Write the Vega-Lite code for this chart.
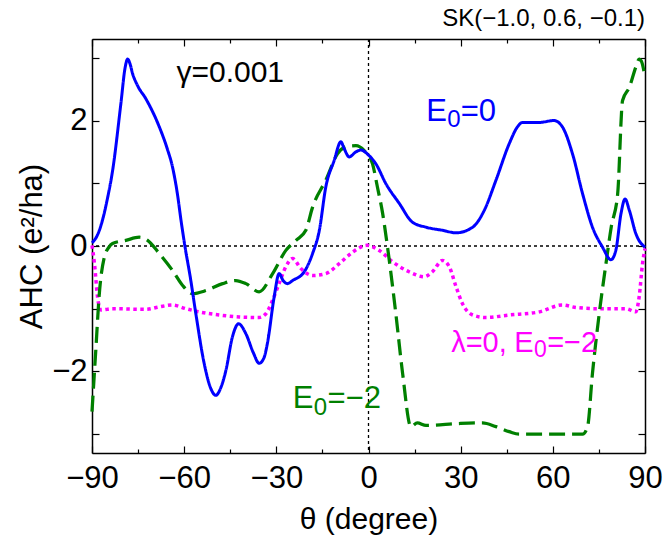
{
  "$schema": "https://vega.github.io/schema/vega-lite/v6.json",
  "width": 553,
  "height": 414,
  "autosize": {"type": "none"},
  "padding": {"left": 92, "top": 39, "right": 19, "bottom": 90},
  "config": {
    "view": {"stroke": null},
    "font": "Liberation Sans",
    "axis": {"grid": false, "domainColor": "black", "domainWidth": 1.5, "tickColor": "black", "tickWidth": 1.2, "labelColor": "black", "titleColor": "black", "titleFontWeight": "normal", "labelFont": "Liberation Sans", "titleFont": "Liberation Sans"}
  },
  "datasets": {
    "one": [{}],
    "curves": [
      {"s": "lambda", "t": -90, "v": 0.01}, {"s": "lambda", "t": -89.2, "v": -0.28}, {"s": "lambda", "t": -88.2, "v": -0.81}, {"s": "lambda", "t": -87.1, "v": -1.02}, {"s": "lambda", "t": -83.3, "v": -1.0}, {"s": "lambda", "t": -72.5, "v": -1.01}, {"s": "lambda", "t": -68.1, "v": -0.97}, {"s": "lambda", "t": -63.8, "v": -0.94}, {"s": "lambda", "t": -59.4, "v": -1.0}, {"s": "lambda", "t": -55.1, "v": -1.05}, {"s": "lambda", "t": -48.6, "v": -1.1}, {"s": "lambda", "t": -42.1, "v": -1.13}, {"s": "lambda", "t": -35.6, "v": -1.14}, {"s": "lambda", "t": -33.4, "v": -1.08}, {"s": "lambda", "t": -31.2, "v": -0.86}, {"s": "lambda", "t": -29.1, "v": -0.6}, {"s": "lambda", "t": -26.9, "v": -0.33}, {"s": "lambda", "t": -24.7, "v": -0.2}, {"s": "lambda", "t": -22, "v": -0.36}, {"s": "lambda", "t": -18.2, "v": -0.47}, {"s": "lambda", "t": -13.9, "v": -0.44}, {"s": "lambda", "t": -9.5, "v": -0.28}, {"s": "lambda", "t": -5.2, "v": -0.1}, {"s": "lambda", "t": -0.5, "v": 0.01}, {"s": "lambda", "t": 3.5, "v": -0.07}, {"s": "lambda", "t": 7.8, "v": -0.25}, {"s": "lambda", "t": 13.2, "v": -0.41}, {"s": "lambda", "t": 18.1, "v": -0.49}, {"s": "lambda", "t": 20.8, "v": -0.41}, {"s": "lambda", "t": 24.1, "v": -0.23}, {"s": "lambda", "t": 26.3, "v": -0.33}, {"s": "lambda", "t": 28.5, "v": -0.65}, {"s": "lambda", "t": 30.6, "v": -0.92}, {"s": "lambda", "t": 33.9, "v": -1.1}, {"s": "lambda", "t": 38.2, "v": -1.14}, {"s": "lambda", "t": 45.8, "v": -1.1}, {"s": "lambda", "t": 55.6, "v": -1.05}, {"s": "lambda", "t": 63.1, "v": -0.94}, {"s": "lambda", "t": 67.5, "v": -0.98}, {"s": "lambda", "t": 75.1, "v": -1.0}, {"s": "lambda", "t": 83.8, "v": -1.0}, {"s": "lambda", "t": 87.0, "v": -1.05}, {"s": "lambda", "t": 88.1, "v": -0.81}, {"s": "lambda", "t": 89.2, "v": -0.28}, {"s": "lambda", "t": 90, "v": -0.04},

      {"s": "E0m2", "t": -90, "v": -2.64}, {"s": "E0m2", "t": -88.7, "v": -1.61}, {"s": "E0m2", "t": -87.7, "v": -0.81}, {"s": "E0m2", "t": -86, "v": -0.18}, {"s": "E0m2", "t": -84.5, "v": -0.02}, {"s": "E0m2", "t": -83.3, "v": 0.04}, {"s": "E0m2", "t": -79, "v": 0.09}, {"s": "E0m2", "t": -74.6, "v": 0.14}, {"s": "E0m2", "t": -71.9, "v": 0.09}, {"s": "E0m2", "t": -68.1, "v": -0.12}, {"s": "E0m2", "t": -63.8, "v": -0.39}, {"s": "E0m2", "t": -60.5, "v": -0.63}, {"s": "E0m2", "t": -57.3, "v": -0.76}, {"s": "E0m2", "t": -52.9, "v": -0.71}, {"s": "E0m2", "t": -47.5, "v": -0.6}, {"s": "E0m2", "t": -43.2, "v": -0.55}, {"s": "E0m2", "t": -39.9, "v": -0.6}, {"s": "E0m2", "t": -35.6, "v": -0.73}, {"s": "E0m2", "t": -31.2, "v": -0.44}, {"s": "E0m2", "t": -26.9, "v": -0.07}, {"s": "E0m2", "t": -23.6, "v": 0.09}, {"s": "E0m2", "t": -20.4, "v": 0.25}, {"s": "E0m2", "t": -18.2, "v": 0.62}, {"s": "E0m2", "t": -13.9, "v": 1.05}, {"s": "E0m2", "t": -10.1, "v": 1.47}, {"s": "E0m2", "t": -6.8, "v": 1.59}, {"s": "E0m2", "t": -4.1, "v": 1.6}, {"s": "E0m2", "t": -1.4, "v": 1.52}, {"s": "E0m2", "t": 1.3, "v": 1.31}, {"s": "E0m2", "t": 2.9, "v": 0.94}, {"s": "E0m2", "t": 4.6, "v": 0.52}, {"s": "E0m2", "t": 6.2, "v": -0.02}, {"s": "E0m2", "t": 8.9, "v": -1.08}, {"s": "E0m2", "t": 11.1, "v": -2.03}, {"s": "E0m2", "t": 13.8, "v": -2.88}, {"s": "E0m2", "t": 15.9, "v": -2.82}, {"s": "E0m2", "t": 18.7, "v": -2.86}, {"s": "E0m2", "t": 29.5, "v": -2.83}, {"s": "E0m2", "t": 37.1, "v": -2.82}, {"s": "E0m2", "t": 41.5, "v": -2.88}, {"s": "E0m2", "t": 45.8, "v": -2.96}, {"s": "E0m2", "t": 49.1, "v": -3.0}, {"s": "E0m2", "t": 69.7, "v": -3.0}, {"s": "E0m2", "t": 71.3, "v": -2.88}, {"s": "E0m2", "t": 72.9, "v": -2.03}, {"s": "E0m2", "t": 75.1, "v": -1.08}, {"s": "E0m2", "t": 77.3, "v": -0.28}, {"s": "E0m2", "t": 79, "v": 0.3}, {"s": "E0m2", "t": 81.1, "v": 0.83}, {"s": "E0m2", "t": 82.7, "v": 2.32}, {"s": "E0m2", "t": 84.9, "v": 2.53}, {"s": "E0m2", "t": 87, "v": 2.85}, {"s": "E0m2", "t": 88.1, "v": 2.98}, {"s": "E0m2", "t": 88.8, "v": 2.95}, {"s": "E0m2", "t": 90, "v": 2.69},

      {"s": "E00", "t": -90, "v": 0.05}, {"s": "E00", "t": -88, "v": 0.2}, {"s": "E00", "t": -86.6, "v": 0.41}, {"s": "E00", "t": -85, "v": 0.75}, {"s": "E00", "t": -83.3, "v": 1.2}, {"s": "E00", "t": -80.6, "v": 2.27}, {"s": "E00", "t": -79.2, "v": 2.85}, {"s": "E00", "t": -78.4, "v": 2.98}, {"s": "E00", "t": -77.6, "v": 2.9}, {"s": "E00", "t": -76.8, "v": 2.75}, {"s": "E00", "t": -75.2, "v": 2.56}, {"s": "E00", "t": -72.5, "v": 2.35}, {"s": "E00", "t": -68.1, "v": 1.9}, {"s": "E00", "t": -65.5, "v": 1.55}, {"s": "E00", "t": -63.8, "v": 1.26}, {"s": "E00", "t": -62.2, "v": 0.83}, {"s": "E00", "t": -61, "v": 0.4}, {"s": "E00", "t": -59.7, "v": -0.02}, {"s": "E00", "t": -58, "v": -0.5}, {"s": "E00", "t": -56.2, "v": -1.08}, {"s": "E00", "t": -53.5, "v": -1.87}, {"s": "E00", "t": -51.5, "v": -2.25}, {"s": "E00", "t": -49.7, "v": -2.38}, {"s": "E00", "t": -48, "v": -2.25}, {"s": "E00", "t": -46.4, "v": -1.98}, {"s": "E00", "t": -44.3, "v": -1.45}, {"s": "E00", "t": -42.3, "v": -1.24}, {"s": "E00", "t": -39.9, "v": -1.4}, {"s": "E00", "t": -37.5, "v": -1.7}, {"s": "E00", "t": -35.6, "v": -1.87}, {"s": "E00", "t": -34, "v": -1.78}, {"s": "E00", "t": -32.9, "v": -1.55}, {"s": "E00", "t": -30.7, "v": -0.81}, {"s": "E00", "t": -29.1, "v": -0.44}, {"s": "E00", "t": -27.8, "v": -0.55}, {"s": "E00", "t": -26.4, "v": -0.6}, {"s": "E00", "t": -24.7, "v": -0.55}, {"s": "E00", "t": -20.9, "v": -0.41}, {"s": "E00", "t": -18.2, "v": -0.12}, {"s": "E00", "t": -16, "v": 0.25}, {"s": "E00", "t": -13.9, "v": 0.94}, {"s": "E00", "t": -11.2, "v": 1.36}, {"s": "E00", "t": -9.0, "v": 1.66}, {"s": "E00", "t": -7.9, "v": 1.55}, {"s": "E00", "t": -6.3, "v": 1.42}, {"s": "E00", "t": -4.1, "v": 1.5}, {"s": "E00", "t": -2.5, "v": 1.53}, {"s": "E00", "t": 0, "v": 1.45}, {"s": "E00", "t": 2.4, "v": 1.31}, {"s": "E00", "t": 5.7, "v": 0.99}, {"s": "E00", "t": 10, "v": 0.68}, {"s": "E00", "t": 14.3, "v": 0.38}, {"s": "E00", "t": 18.7, "v": 0.3}, {"s": "E00", "t": 24.1, "v": 0.25}, {"s": "E00", "t": 28.5, "v": 0.21}, {"s": "E00", "t": 33.9, "v": 0.3}, {"s": "E00", "t": 37.7, "v": 0.57}, {"s": "E00", "t": 41.5, "v": 1.05}, {"s": "E00", "t": 45.8, "v": 1.63}, {"s": "E00", "t": 48.5, "v": 1.9}, {"s": "E00", "t": 50.1, "v": 1.97}, {"s": "E00", "t": 55.6, "v": 1.97}, {"s": "E00", "t": 60.4, "v": 2.0}, {"s": "E00", "t": 63.1, "v": 1.9}, {"s": "E00", "t": 66.4, "v": 1.47}, {"s": "E00", "t": 69.7, "v": 0.83}, {"s": "E00", "t": 72.9, "v": 0.3}, {"s": "E00", "t": 76.2, "v": -0.02}, {"s": "E00", "t": 78.9, "v": -0.22}, {"s": "E00", "t": 80.5, "v": -0.07}, {"s": "E00", "t": 82.2, "v": 0.52}, {"s": "E00", "t": 83.5, "v": 0.75}, {"s": "E00", "t": 84.9, "v": 0.57}, {"s": "E00", "t": 87, "v": 0.2}, {"s": "E00", "t": 90, "v": -0.02}
    ]
  },
  "resolve": {"axis": {"x": "independent", "y": "independent"}},
  "layer": [
    {
      "data": {"name": "one"},
      "mark": {"type": "rule", "color": "black", "strokeWidth": 1.3, "strokeDash": [3, 3]},
      "encoding": {"x": {"datum": 0, "axis": null}}
    },
    {
      "data": {"name": "one"},
      "mark": {"type": "rule", "color": "black", "strokeWidth": 1.3, "strokeDash": [3, 3]},
      "encoding": {"y": {"datum": 0, "axis": null}}
    },
    {
      "data": {"name": "curves"},
      "mark": {"type": "line", "interpolate": "monotone", "strokeCap": "butt"},
      "encoding": {
        "x": {"field": "t", "type": "quantitative",
          "scale": {"domain": [-90, 90], "nice": false, "zero": false},
          "axis": {"orient": "bottom", "values": [-90, -75, -60, -45, -30, -15, 0, 15, 30, 45, 60, 75, 90],
            "labelExpr": "datum.value % 30 === 0 ? datum.label : ''",
            "tickSize": {"condition": {"test": "datum.value % 30 === 0", "value": -7}, "value": -4},
            "labelFontSize": 31, "labelPadding": 17, "labelFlush": false, "labelOverlap": false, "labelBound": false,
            "title": "θ (degree)", "titleFontSize": 30, "titlePadding": 8}},
        "y": {"field": "v", "type": "quantitative",
          "scale": {"domain": [-3.3, 3.3], "nice": false, "zero": false},
          "axis": {"orient": "left", "values": [-3, -2, -1, 0, 1, 2, 3],
            "labelExpr": "datum.value % 2 === 0 ? datum.label : ''",
            "tickSize": -7, "labelFontSize": 31, "labelPadding": 12, "labelOverlap": false, "labelBound": false,
            "title": "AHC (e²/ha)", "titleFontSize": 31, "titlePadding": 3}},
        "color": {"field": "s", "type": "nominal", "legend": null,
          "scale": {"domain": ["lambda", "E0m2", "E00"], "range": ["#ff00ff", "#008000", "#0000ff"]}},
        "strokeDash": {"field": "s", "type": "nominal", "legend": null,
          "scale": {"domain": ["lambda", "E0m2", "E00"], "range": [[3.5, 3.5], [16, 7], [1, 0]]}},
        "strokeWidth": {"field": "s", "type": "nominal", "legend": null,
          "scale": {"domain": ["lambda", "E0m2", "E00"], "range": [3.5, 3, 3]}}
      }
    },
    {
      "data": {"name": "curves"},
      "mark": {"type": "point", "opacity": 0},
      "encoding": {
        "x": {"field": "t", "type": "quantitative",
          "axis": {"orient": "top", "values": [-90, -75, -60, -45, -30, -15, 0, 15, 30, 45, 60, 75, 90],
            "labels": false, "title": null,
            "tickSize": {"condition": {"test": "datum.value % 30 === 0", "value": -7}, "value": -4}}},
        "y": {"field": "v", "type": "quantitative",
          "axis": {"orient": "right", "values": [-3, -2, -1, 0, 1, 2, 3], "labels": false, "title": null, "tickSize": -7}}
      }
    },
    {
      "data": {"name": "one"},
      "mark": {"type": "text", "align": "center", "baseline": "alphabetic", "fontSize": 30, "color": "black"},
      "encoding": {"x": {"datum": -45.0, "axis": null}, "y": {"datum": 2.62, "axis": null}, "text": {"value": "γ=0.001"}}
    },
    {
      "data": {"name": "one"},
      "mark": {"type": "text", "align": "right", "baseline": "alphabetic", "fontSize": 24, "color": "black"},
      "encoding": {"x": {"datum": 90, "axis": null}, "y": {"datum": 3.5, "axis": null}, "text": {"value": "SK(−1.0, 0.6, −0.1)"}}
    },
    {
      "data": {"name": "one"},
      "mark": {"type": "text", "align": "left", "baseline": "alphabetic", "fontSize": 31, "color": "#0000ff", "dx": -1},
      "encoding": {"x": {"datum": 19.1, "axis": null}, "y": {"datum": 1.986, "axis": null}, "text": {"value": "E"}}
    },
    {
      "data": {"name": "one"},
      "mark": {"type": "text", "align": "left", "baseline": "alphabetic", "fontSize": 24, "color": "#0000ff", "dx": 20, "dy": 6},
      "encoding": {"x": {"datum": 19.1, "axis": null}, "y": {"datum": 1.986, "axis": null}, "text": {"value": "0"}}
    },
    {
      "data": {"name": "one"},
      "mark": {"type": "text", "align": "left", "baseline": "alphabetic", "fontSize": 31, "color": "#0000ff", "dx": 33.5},
      "encoding": {"x": {"datum": 19.1, "axis": null}, "y": {"datum": 1.986, "axis": null}, "text": {"value": "=0"}}
    },
    {
      "data": {"name": "one"},
      "mark": {"type": "text", "align": "left", "baseline": "alphabetic", "fontSize": 31, "color": "#008000", "dx": -1},
      "encoding": {"x": {"datum": -24.35, "axis": null}, "y": {"datum": -2.58, "axis": null}, "text": {"value": "E"}}
    },
    {
      "data": {"name": "one"},
      "mark": {"type": "text", "align": "left", "baseline": "alphabetic", "fontSize": 24, "color": "#008000", "dx": 20, "dy": 7},
      "encoding": {"x": {"datum": -24.35, "axis": null}, "y": {"datum": -2.58, "axis": null}, "text": {"value": "0"}}
    },
    {
      "data": {"name": "one"},
      "mark": {"type": "text", "align": "left", "baseline": "alphabetic", "fontSize": 31, "color": "#008000", "dx": 33.8},
      "encoding": {"x": {"datum": -24.35, "axis": null}, "y": {"datum": -2.58, "axis": null}, "text": {"value": "=−2"}}
    },
    {
      "data": {"name": "one"},
      "mark": {"type": "text", "align": "left", "baseline": "alphabetic", "fontSize": 29, "color": "#ff00ff"},
      "encoding": {"x": {"datum": 26.9, "axis": null}, "y": {"datum": -1.69, "axis": null}, "text": {"value": "λ=0,"}}
    },
    {
      "data": {"name": "one"},
      "mark": {"type": "text", "align": "left", "baseline": "alphabetic", "fontSize": 29, "color": "#ff00ff", "dx": 63},
      "encoding": {"x": {"datum": 26.9, "axis": null}, "y": {"datum": -1.69, "axis": null}, "text": {"value": "E"}}
    },
    {
      "data": {"name": "one"},
      "mark": {"type": "text", "align": "left", "baseline": "alphabetic", "fontSize": 23, "color": "#ff00ff", "dx": 82.8, "dy": 5},
      "encoding": {"x": {"datum": 26.9, "axis": null}, "y": {"datum": -1.69, "axis": null}, "text": {"value": "0"}}
    },
    {
      "data": {"name": "one"},
      "mark": {"type": "text", "align": "left", "baseline": "alphabetic", "fontSize": 29, "color": "#ff00ff", "dx": 96},
      "encoding": {"x": {"datum": 26.9, "axis": null}, "y": {"datum": -1.69, "axis": null}, "text": {"value": "=−2"}}
    }
  ]
}
